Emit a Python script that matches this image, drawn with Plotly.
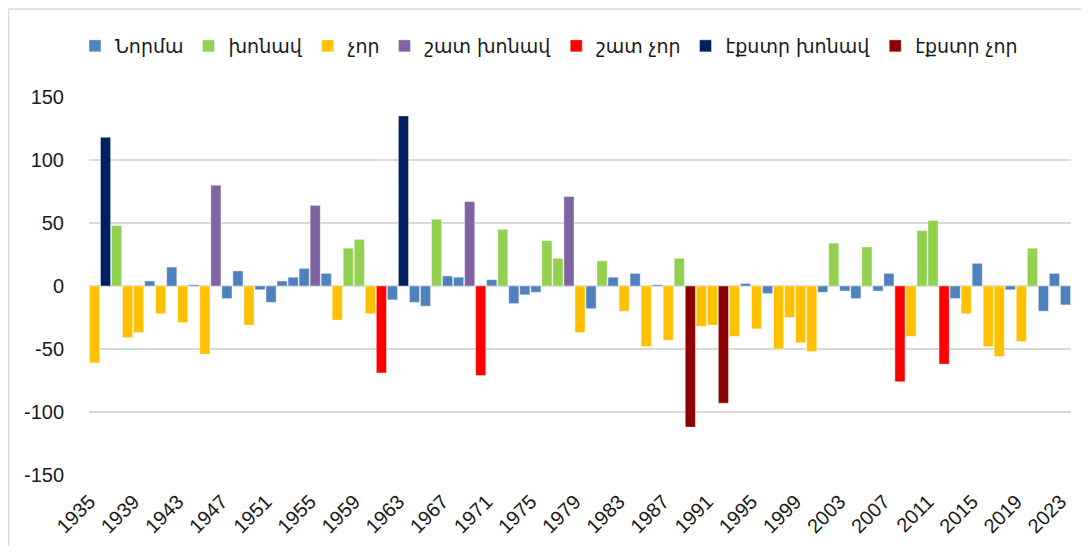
import plotly.graph_objects as go

# Year-by-year anomaly and its class
years = list(range(1935, 2024))

values = [
    -61, 118, 48, -41, -37, 4, -22, 15, -29, 1,
    -54, 80, -10, 12, -31, -3, -13, 4, 7, 14,
    64, 10, -27, 30, 37, -22, -69, -11, 135, -13,
    -16, 53, 8, 7, 67, -71, 5, 45, -14, -7,
    -5, 36, 22, 71, -37, -18, 20, 7, -20, 10,
    -48, 1, -43, 22, -112, -32, -31, -93, -40, 2,
    -34, -6, -50, -25, -45, -52, -5, 34, -4, -10,
    31, -4, 10, -76, -40, 44, 52, -62, -10, -22,
    18, -48, -56, -3, -44, 30, -20, 10, -15,
]

N, W, D, VW, VD, EW, ED = ("Նորմա", "խոնավ", "չոր", "շատ խոնավ",
                           "շատ չոր", "էքստր խոնավ", "էքստր չոր")

classes = [
    D, EW, W, D, D, N, D, N, D, N,
    D, VW, N, N, D, N, N, N, N, N,
    VW, N, D, W, W, D, VD, N, EW, N,
    N, W, N, N, VW, VD, N, W, N, N,
    N, W, W, VW, D, N, W, N, D, N,
    D, N, D, W, ED, D, D, ED, D, N,
    D, N, D, D, D, D, N, W, N, N,
    W, N, N, VD, D, W, W, VD, N, D,
    N, D, D, N, D, W, N, N, N,
]

y_ticks = [-150, -100, -50, 0, 50, 100, 150]

order = [N, W, D, VW, VD, EW, ED]
colors = {
    N: "#4F81BD",
    W: "#92D050",
    D: "#FFC000",
    VW: "#8064A2",
    VD: "#FF0000",
    EW: "#002060",
    ED: "#8B0000",
}

fig = go.Figure()
for name in order:
    xs = [y for y, c in zip(years, classes) if c == name]
    ys = [v for v, c in zip(values, classes) if c == name]
    fig.add_bar(x=xs, y=ys, name=name, marker_color=colors[name],
                marker_line=dict(width=0.6, color="rgba(255,255,255,0.7)"))

# page body has an 8px margin, so the figure is sized to fit inside it
W_PX, H_PX = 1073, 538
ML, MR, MT, MB = 81, 10, 89, 71
pw, ph = W_PX - ML - MR, H_PX - MT - MB

def px(x):
    return (x - ML) / pw

def py(y):
    return 1 - (y - MT) / ph

fig.update_layout(
    width=W_PX, height=H_PX,
    margin=dict(l=ML, r=MR, t=MT, b=MB, autoexpand=False),
    barmode="relative",
    bargap=0.08,
    plot_bgcolor="white",
    paper_bgcolor="white",
    font=dict(family="Liberation Sans, DejaVu Sans, sans-serif", size=20, color="#1a1a1a"),
    showlegend=True,
    legend=dict(
        orientation="h",
        x=px(67), y=py(38), xanchor="left", yanchor="middle",
        font=dict(family="DejaVu Sans, sans-serif", size=19),
        itemwidth=30,
        traceorder="normal",
    ),
    shapes=[
        dict(type="line", xref="paper", yref="paper",
             x0=px(0), x1=px(W_PX), y0=py(1), y1=py(1),
             line=dict(color="#d9d9d9", width=1.5)),
        dict(type="line", xref="paper", yref="paper",
             x0=px(0.5), x1=px(0.5), y0=py(1), y1=py(H_PX),
             line=dict(color="#d9d9d9", width=1.5)),
    ],
)

fig.update_xaxes(
    range=[1934.5, 2023.5],
    tickmode="array",
    tickvals=years[::4],
    ticktext=[str(y) for y in years[::4]],
    tickangle=-45,
    showgrid=False,
    zeroline=False,
    showline=False,
    ticks="",
    ticklabelshift=-5,
    ticklabelstandoff=10,
    automargin=False,
)

fig.update_yaxes(
    range=[-150, 150],
    tickmode="array",
    tickvals=y_ticks,
    ticktext=[str(v) for v in y_ticks],
    showgrid=True,
    gridcolor="#d9d9d9",
    gridwidth=1.5,
    zeroline=True,
    zerolinecolor="#d9d9d9",
    zerolinewidth=1.5,
    ticks="",
    ticklabelstandoff=24,
    automargin=False,
)

fig.write_html("out.html")
